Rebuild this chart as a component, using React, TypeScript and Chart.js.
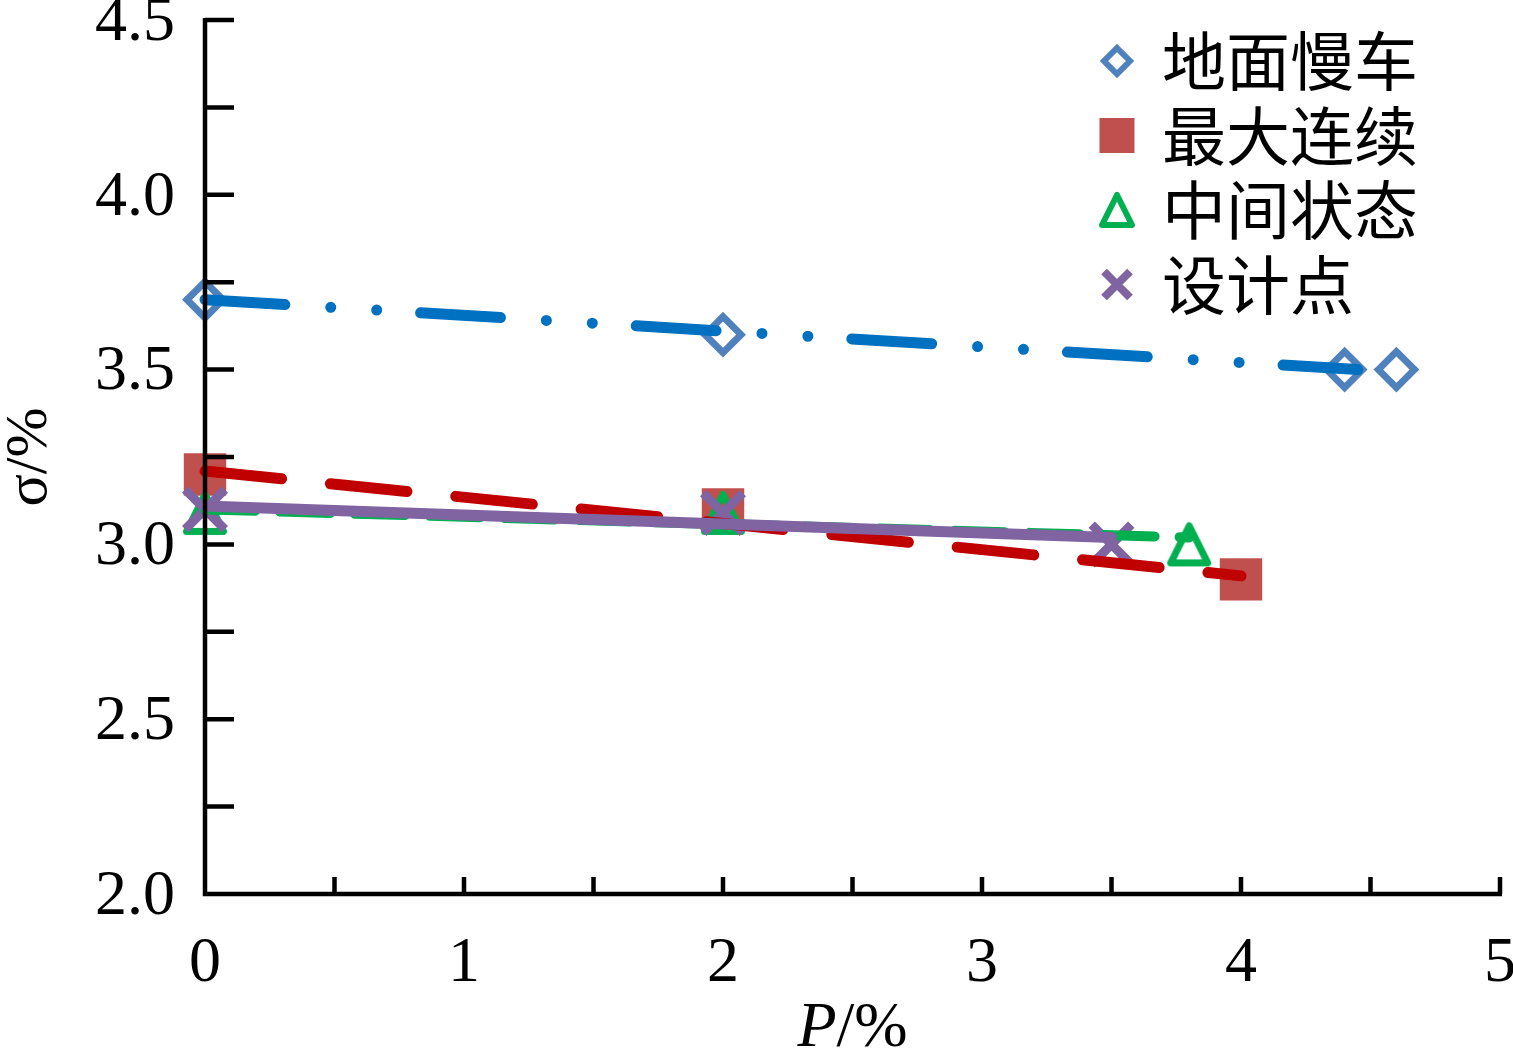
import React, { useEffect, useRef } from 'react';
import { Chart, registerables } from 'chart.js';

Chart.register(...registerables);

const seriesNames = ['地面慢车', '最大连续', '中间状态', '设计点'];

// measured points
const idleX = [0, 2, 4.4, 4.6];
const idleY = [3.7, 3.6, 3.5, 3.5];
const maxContX = [0, 2, 4];
const maxContY = [3.2, 3.1, 2.9];
const midX = [0, 2, 3.8];
const midY = [3.09, 3.09, 3.0];
const designX = [0, 2, 3.5];
const designY = [3.1, 3.09, 3.0];

// trend lines (start / end)
const idleTrendX = [0, 4.45];
const idleTrendY = [3.7, 3.5];
const maxContTrendX = [0, 4];
const maxContTrendY = [3.21, 2.91];
const midTrendX = [0, 3.8];
const midTrendY = [3.1, 3.02];
const designTrendX = [0, 3.5];
const designTrendY = [3.11, 3.02];

const xTicks = [0, 1, 2, 3, 4, 5];
const yTicks = [2.0, 2.5, 3.0, 3.5, 4.0, 4.5];

const SERIF = '"Times New Roman", "Liberation Serif", serif';
const CJK = '"Noto Sans CJK SC", sans-serif';

const BLUE_MK = '#4f81bd';
const RED_MK = '#c0504d';
const GREEN = '#00b050';
const PURPLE = '#8064a2';
const BLUE_LN = '#0070c0';
const RED_LN = '#c00000';

const pts = (xs: number[], ys: number[]) => xs.map((x, i) => ({ x, y: ys[i] }));

function makeTriangle(size: number, lw: number, color: string) {
  const c = document.createElement('canvas');
  c.width = size;
  c.height = size;
  const ctx = c.getContext('2d')!;
  ctx.strokeStyle = color;
  ctx.lineWidth = lw;
  ctx.lineJoin = 'round';
  const p = lw / 2 + 1;
  ctx.beginPath();
  ctx.moveTo(size / 2, p);
  ctx.lineTo(size - p, size - p);
  ctx.lineTo(p, size - p);
  ctx.closePath();
  ctx.stroke();
  return c;
}

export default function App() {
  const canvasRef = useRef<HTMLCanvasElement>(null);

  useEffect(() => {
    document.body.style.margin = '0';
    document.body.style.overflow = 'hidden';
    if (!canvasRef.current) return;

    const triChart = makeTriangle(46, 7, GREEN);
    const triLegend = makeTriangle(38, 6, GREEN);

    // axis lines + inward ticks, drawn over the data like the original
    const axesPlugin = {
      id: 'axesPlugin',
      afterDatasetsDraw(chart: any) {
        const { ctx, chartArea: a, scales } = chart;
        const x = scales.x;
        const y = scales.y;
        ctx.save();
        ctx.strokeStyle = '#000';
        ctx.lineWidth = 4.5;
        ctx.lineCap = 'butt';
        ctx.beginPath();
        ctx.moveTo(a.left, a.top - 2);
        ctx.lineTo(a.left, a.bottom + 2.25);
        ctx.moveTo(a.left - 2.25, a.bottom);
        ctx.lineTo(a.right + 2, a.bottom);
        for (let v = y.min + 0.25; v <= y.max + 1e-9; v += 0.25) {
          const py = y.getPixelForValue(v);
          ctx.moveTo(a.left, py);
          ctx.lineTo(a.left + 29, py);
        }
        for (let v = x.min + 0.5; v <= x.max + 1e-9; v += 0.5) {
          const px = x.getPixelForValue(v);
          ctx.moveTo(px, a.bottom);
          ctx.lineTo(px, a.bottom - 17);
        }
        ctx.stroke();
        ctx.restore();
      },
      afterDraw(chart: any) {
        const { ctx, chartArea: a } = chart;
        ctx.save();
        // x title: italic P, upright /%
        ctx.fillStyle = '#000';
        ctx.textBaseline = 'alphabetic';
        const italic = `italic 64px ${SERIF}`;
        const normal = `64px ${SERIF}`;
        ctx.font = italic;
        const wP = ctx.measureText('P').width;
        ctx.font = normal;
        const wRest = ctx.measureText('/%').width;
        const cx = (a.left + a.right) / 2;
        const sx = cx - (wP + wRest) / 2;
        ctx.font = italic;
        ctx.fillText('P', sx, 1046);
        ctx.font = normal;
        ctx.fillText('/%', sx + wP, 1046);

        // legend
        const mx = 1117;
        const tx = 1162;
        const rows = seriesNames.map((_, i) => 61 + i * 74.5);
        // diamond
        ctx.strokeStyle = BLUE_MK;
        ctx.lineWidth = 6;
        ctx.beginPath();
        ctx.moveTo(mx, rows[0] - 13);
        ctx.lineTo(mx + 13, rows[0]);
        ctx.lineTo(mx, rows[0] + 13);
        ctx.lineTo(mx - 13, rows[0]);
        ctx.closePath();
        ctx.stroke();
        // square
        ctx.fillStyle = RED_MK;
        ctx.fillRect(mx - 17.5, rows[1] - 17.5, 35, 35);
        // triangle
        ctx.drawImage(triLegend, mx - 19, rows[2] - 19, 38, 38);
        // cross
        ctx.strokeStyle = PURPLE;
        ctx.lineWidth = 8;
        ctx.beginPath();
        ctx.moveTo(mx - 13, rows[3] - 13);
        ctx.lineTo(mx + 13, rows[3] + 13);
        ctx.moveTo(mx + 13, rows[3] - 13);
        ctx.lineTo(mx - 13, rows[3] + 13);
        ctx.stroke();

        ctx.fillStyle = '#000';
        ctx.font = `64px ${CJK}`;
        ctx.textBaseline = 'middle';
        seriesNames.forEach((name, i) => ctx.fillText(name, tx, rows[i]));
        ctx.restore();
      },
    };

    const trend = (xs: number[], ys: number[], color: string, width: number, dash: number[], order: number) => ({
      data: pts(xs, ys),
      showLine: true,
      borderColor: color,
      borderWidth: width,
      borderDash: dash,
      borderCapStyle: 'round' as const,
      pointRadius: 0,
      clip: false as const,
      order,
    });

    const chart = new Chart(canvasRef.current, {
      type: 'scatter',
      data: {
        datasets: [
          trend(designTrendX, designTrendY, PURPLE, 11, [], 0),
          trend(midTrendX, midTrendY, GREEN, 10, [50, 25], 1),
          trend(maxContTrendX, maxContTrendY, RED_LN, 11, [77, 49], 2),
          trend(idleTrendX, idleTrendY, BLUE_LN, 11, [80, 46, 0, 46, 0, 44], 3),
          {
            label: seriesNames[3],
            data: pts(designX, designY),
            pointStyle: 'crossRot',
            pointRadius: 28,
            pointBorderWidth: 9,
            pointBorderColor: PURPLE,
            clip: false,
            order: 4,
          },
          {
            label: seriesNames[2],
            data: pts(midX, midY),
            pointStyle: triChart,
            pointRadius: 23,
            clip: false,
            order: 5,
          },
          {
            label: seriesNames[1],
            data: pts(maxContX, maxContY),
            pointStyle: 'rect',
            pointRadius: 30,
            pointBorderWidth: 0,
            pointBackgroundColor: RED_MK,
            pointBorderColor: RED_MK,
            clip: false,
            order: 6,
          },
          {
            label: seriesNames[0],
            data: pts(idleX, idleY),
            pointStyle: 'rectRot',
            pointRadius: 18,
            pointBorderWidth: 7,
            pointBorderColor: BLUE_MK,
            pointBackgroundColor: 'rgba(0,0,0,0)',
            clip: false,
            order: 7,
          },
        ] as any,
      },
      options: {
        animation: false,
        responsive: false,
        events: [],
        layout: { autoPadding: false, padding: { top: 20, right: 13, left: 0, bottom: 0 } },
        plugins: {
          legend: { display: false },
          tooltip: { enabled: false },
        },
        scales: {
          x: {
            type: 'linear',
            min: xTicks[0],
            max: xTicks[xTicks.length - 1],
            grid: { display: false, drawTicks: false },
            border: { display: false },
            afterBuildTicks: (s: any) => {
              s.ticks = xTicks.map((v) => ({ value: v }));
            },
            ticks: {
              padding: 32,
              color: '#000',
              font: { family: SERIF, size: 64, lineHeight: 1.2 },
              callback: (v: any) => String(v),
            },
            afterFit: (s: any) => {
              s.height = 158;
              s.paddingLeft = 0;
              s.paddingRight = 0;
            },
          },
          y: {
            type: 'linear',
            min: yTicks[0],
            max: yTicks[yTicks.length - 1],
            grid: { display: false, drawTicks: false },
            border: { display: false },
            afterBuildTicks: (s: any) => {
              s.ticks = yTicks.map((v) => ({ value: v }));
            },
            ticks: {
              padding: 30,
              labelOffset: 3,
              color: '#000',
              font: { family: SERIF, size: 64, lineHeight: 1.2 },
              callback: (v: any) => Number(v).toFixed(1),
            },
            title: {
              display: true,
              text: 'σ/%',
              color: '#000',
              font: { family: SERIF, size: 60, lineHeight: 1 },
              padding: 0,
            },
            afterFit: (s: any) => {
              s.width = 205;
              s.paddingTop = 0;
              s.paddingBottom = 0;
            },
          },
        },
      },
      plugins: [axesPlugin],
    });

    return () => chart.destroy();
  }, []);

  return (
    <div style={{ width: 1513, height: 1052, overflow: 'hidden', background: '#fff' }}>
      <canvas ref={canvasRef} width={1513} height={1052} style={{ display: 'block' }} />
    </div>
  );
}
